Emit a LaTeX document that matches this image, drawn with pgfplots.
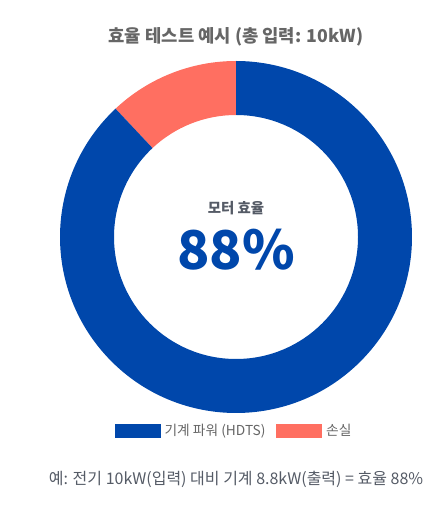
\documentclass[border=0pt]{standalone}
\usepackage{pgfplots}
\usepackage{pgfplotstable}
\pgfplotsset{compat=1.18}
\usepackage{fontspec}
\setmainfont{Noto Sans CJK KR}
\usetikzlibrary{calc}

\definecolor{mblue}{HTML}{0047AB}
\definecolor{mloss}{HTML}{FF6F61}
\definecolor{titlegray}{HTML}{666666}
\definecolor{notegray}{HTML}{555B66}

\pgfplotsset{boxlegend/.style={legend image code/.code={\fill[##1] (0pt,-5.25pt) rectangle (34.5pt,5.25pt);}}}

% share of the 10 kW input
\pgfplotstableread{
part value
mech 88
loss 12
}\effdata

\pgfplotstablegetelem{0}{value}\of\effdata \let\vmech\pgfplotsretval
\pgfplotstablegetelem{1}{value}\of\effdata \let\vloss\pgfplotsretval
\pgfmathsetmacro\aloss{90+360*\vloss/(\vmech+\vloss)}

\begin{document}
\begin{tikzpicture}
    \begin{axis}[
        x=0.75pt, y=0.75pt,
        xmin=0, xmax=443,
        ymin=-507, ymax=0,
        hide axis,
        clip=false,
        legend style={at={(axis cs:235,-431)}, anchor=center,
            draw=none, fill=none, font=\fontsize{10.3}{12}\selectfont,
            text=titlegray, legend columns=2,
            nodes={inner xsep=3pt},
            /tikz/every even column/.append style={column sep=5pt}},
        ]
        \path (axis cs:0,0) (axis cs:443,-507);
        \coordinate (c) at (axis cs:236,-237);
        % loss slice, from the top anticlockwise
        \fill[mloss] ($(c)+(90:132pt)$) arc[start angle=90, end angle=\aloss, radius=132pt]
            -- ($(c)+(\aloss:91.5pt)$) arc[start angle=\aloss, end angle=90, radius=91.5pt] -- cycle;
        % mechanical power slice
        \fill[mblue] ($(c)+(\aloss:132pt)$) arc[start angle=\aloss, end angle=450, radius=132pt]
            -- ($(c)+(450:91.5pt)$) arc[start angle=450, end angle=\aloss, radius=91.5pt] -- cycle;

        \node[text=titlegray, font=\fontsize{13.3}{16}\selectfont\bfseries]
            at (axis cs:236,-37) {효율 테스트 예시 (총 입력: 10kW)};
        \node[text=notegray, font=\fontsize{10.8}{12}\selectfont\bfseries]
            at (axis cs:236,-208) {모터 효율};
        \node[text=mblue, font=\fontsize{40}{42}\selectfont\bfseries]
            at (axis cs:236,-250) {88\%};
        \node[text=notegray, font=\fontsize{12}{14}\selectfont]
            at (axis cs:236,-479) {예: 전기 10kW(입력) 대비 기계 8.8kW(출력) = 효율 88\%};

        \addlegendimage{boxlegend, fill=mblue, draw=none}
        \addlegendentry{기계 파워 (HDTS)}
        \addlegendimage{boxlegend, fill=mloss, draw=none}
        \addlegendentry{손실}
    \end{axis}
\end{tikzpicture}
\end{document}
